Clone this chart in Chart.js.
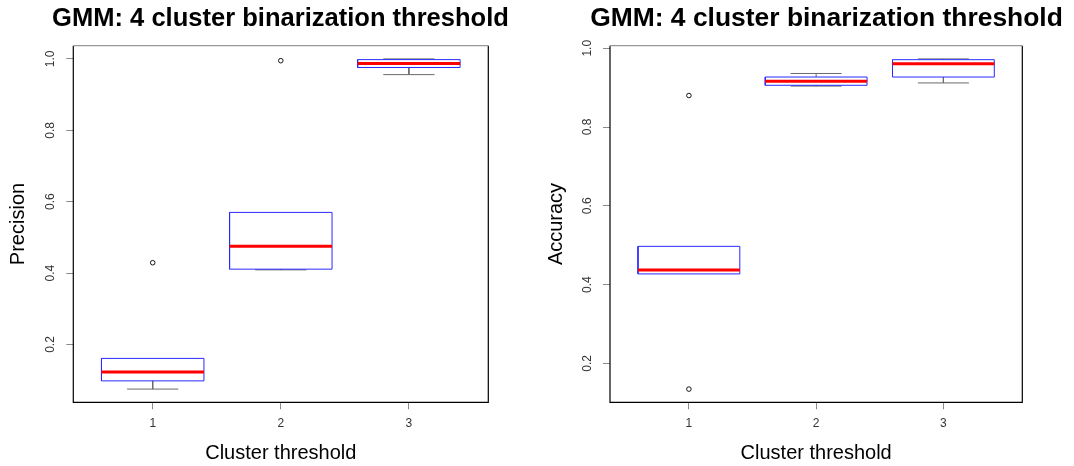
<!DOCTYPE html>
<html><head><meta charset="utf-8">
<script src="https://cdn.jsdelivr.net/npm/chart.js@4"></script>
<style>
html,body{margin:0;padding:0;background:#fff;width:1074px;height:466px;overflow:hidden;position:relative;}
.panel{position:absolute;top:0;height:466px;}
</style></head><body>
<div class="panel" style="left:0;width:561px"><canvas id="c1" width="561" height="466"></canvas></div>
<div class="panel" style="left:537px;width:579px"><canvas id="c2" width="579" height="466"></canvas></div>
<script>
const chartTitle = 'GMM: 4 cluster binarization threshold';
const xAxisTitle = 'Cluster threshold';
const categories = [1, 2, 3];
const yTicks = [0.2, 0.4, 0.6, 0.8, 1.0];

// Panel 1: Precision
const precTitle = 'Precision';
const precLowerWhisker = [0.075, 0.409, 0.956];
const precQ1 = [0.098, 0.411, 0.976];
const precMedian = [0.123, 0.475, 0.987];
const precQ3 = [0.161, 0.570, 0.998];
const precUpperWhisker = [0.161, 0.570, 1.000];
const precOutliers = [[0.429], [0.995], []];

// Panel 2: Accuracy
const accTitle = 'Accuracy';
const accLowerWhisker = [0.427, 0.904, 0.912];
const accQ1 = [0.427, 0.906, 0.927];
const accMedian = [0.437, 0.916, 0.961];
const accQ3 = [0.497, 0.927, 0.971];
const accUpperWhisker = [0.497, 0.936, 0.973];
const accOutliers = [[0.880, 0.1345], [], []];

const FONT = '"Liberation Sans", Arial, Helvetica, sans-serif';
const BOX_HALF = 0.4, STAPLE_HALF = 0.2;

// title font size chosen so the rendered width matches the reference width
function titleSizeFor(targetW) {
  const ctx = document.createElement('canvas').getContext('2d');
  ctx.font = 'bold 25px ' + FONT;
  const w = ctx.measureText(chartTitle).width || 447;
  return Math.max(22, Math.min(28, 25 * targetW / w));
}

function build(lw, q1, med, q3, uw, outl) {
  const medPts = [], boxPts = [], whiskPts = [], outPts = [];
  categories.forEach((c, i) => {
    medPts.push({x: c - BOX_HALF, y: med[i]}, {x: c + BOX_HALF, y: med[i]}, {x: c, y: null});
    boxPts.push({x: c - BOX_HALF, y: q1[i]}, {x: c + BOX_HALF, y: q1[i]}, {x: c + BOX_HALF, y: q3[i]},
                {x: c - BOX_HALF, y: q3[i]}, {x: c - BOX_HALF, y: q1[i]}, {x: c, y: null});
    if (uw[i] > q3[i]) {
      whiskPts.push({x: c, y: q3[i]}, {x: c, y: uw[i]}, {x: c, y: null});
      whiskPts.push({x: c - STAPLE_HALF, y: uw[i]}, {x: c + STAPLE_HALF, y: uw[i]}, {x: c, y: null});
    }
    if (lw[i] < q1[i]) {
      whiskPts.push({x: c, y: q1[i]}, {x: c, y: lw[i]}, {x: c, y: null});
      whiskPts.push({x: c - STAPLE_HALF, y: lw[i]}, {x: c + STAPLE_HALF, y: lw[i]}, {x: c, y: null});
    }
    outl[i].forEach(v => outPts.push({x: c, y: v}));
  });
  const all = [].concat(lw, uw, ...outl);
  const lo = Math.min(...all), hi = Math.max(...all), r = hi - lo;
  return {
    yMin: lo - 0.04 * r, yMax: hi + 0.04 * r,
    datasets: [
      {data: medPts, showLine: true, spanGaps: false, borderColor: '#ff0000', borderWidth: 3, pointRadius: 0, borderCapStyle: 'butt'},
      {data: boxPts, showLine: true, spanGaps: false, borderColor: '#2a2aff', borderWidth: 1, pointRadius: 0, backgroundColor: 'transparent'},
      {data: whiskPts, showLine: true, spanGaps: false, borderColor: '#6a6a6a', borderWidth: 1, pointRadius: 0},
      {data: outPts, showLine: false, pointRadius: 2.3, pointStyle: 'circle', borderColor: '#000', borderWidth: 0.9, backgroundColor: 'rgba(0,0,0,0)'}
    ]
  };
}

const framePlugin = {
  id: 'frame',
  afterDraw(chart) {
    const {ctx, chartArea: a} = chart;
    ctx.save();
    ctx.lineWidth = 1.2;
    ctx.strokeStyle = '#000';
    ctx.beginPath();
    ctx.moveTo(a.left, a.top); ctx.lineTo(a.left, a.bottom); ctx.lineTo(a.right, a.bottom); ctx.lineTo(a.right, a.top);
    ctx.stroke();
    ctx.strokeStyle = '#999';
    ctx.beginPath(); ctx.moveTo(a.left, a.top); ctx.lineTo(a.right, a.top); ctx.stroke();
    ctx.restore();
  }
};

function makeChart(id, spec, yTitle, leftW, rightW, yTitlePad, titleW) {
  const tSize = titleSizeFor(titleW);
  return new Chart(document.getElementById(id), {
    type: 'scatter',
    data: {datasets: spec.datasets},
    options: {
      responsive: false, animation: false, devicePixelRatio: 1,
      layout: {padding: 0},
      plugins: {
        legend: {display: false}, tooltip: {enabled: false},
        title: {display: true, text: chartTitle, color: '#000',
                font: {family: FONT, size: tSize, weight: 'bold', lineHeight: 30 / tSize},
                padding: {top: 4, bottom: 11.7}}
      },
      scales: {
        x: {
          type: 'linear', min: 0.38, max: 3.62,
          afterBuildTicks: a => { a.ticks = categories.map(v => ({value: v})); },
          afterFit: a => { a.height = 63.7; },
          grid: {drawOnChartArea: false, drawTicks: true, tickLength: 7, color: '#8a8a8a'},
          border: {display: false},
          ticks: {font: {family: FONT, size: 12}, color: '#333', padding: 7, maxRotation: 0, callback: v => String(v)},
          title: {display: true, text: xAxisTitle, color: '#000', font: {family: FONT, size: 20, lineHeight: 1.2}, padding: {top: 0, bottom: 1}}
        },
        y: {
          type: 'linear', position: 'left', min: spec.yMin, max: spec.yMax,
          afterBuildTicks: a => { a.ticks = yTicks.map(v => ({value: v})); },
          afterFit: a => { a.width = leftW; },
          grid: {drawOnChartArea: false, drawTicks: true, tickLength: 7, color: '#8a8a8a'},
          border: {display: false},
          ticks: {font: {family: FONT, size: 12}, color: '#333', padding: 7, minRotation: 90, maxRotation: 90, crossAlign: 'center', callback: v => Number(v).toFixed(1)},
          title: {display: true, text: yTitle, color: '#000', font: {family: FONT, size: 20, lineHeight: 1.2}, padding: {top: yTitlePad, bottom: 0}}
        },
        yRightSpace: {
          type: 'linear', position: 'right', min: spec.yMin, max: spec.yMax,
          afterFit: a => { a.width = rightW; },
          grid: {display: false}, border: {display: false}, ticks: {display: false}
        }
      }
    },
    plugins: [framePlugin]
  });
}

const precSpec = build(precLowerWhisker, precQ1, precMedian, precQ3, precUpperWhisker, precOutliers);
const accSpec = build(accLowerWhisker, accQ1, accMedian, accQ3, accUpperWhisker, accOutliers);
// left canvas: page x 0..561, plot 73.3..488.3 ; right canvas: page x 537..1116, plot 610..1022.3
makeChart('c1', precSpec, precTitle, 73.3, 561 - 488.3, 6, 457);
makeChart('c2', accSpec, accTitle, 73, 579 - 485.3, 7, 473);
</script>
</body></html>
